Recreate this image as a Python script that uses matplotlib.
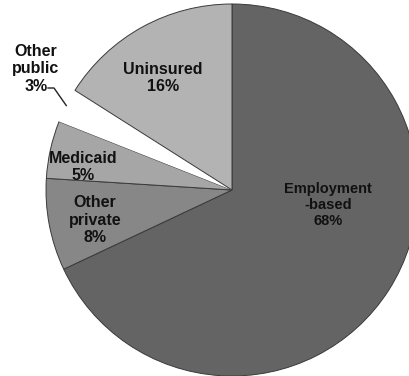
import numpy as np
import matplotlib
matplotlib.use("Agg")
import matplotlib.pyplot as plt

# === DATA ===
categories = ["Employment\n-based", "Other\nprivate", "Medicaid", "Other\npublic", "Uninsured"]
shares = [68, 8, 5, 3, 16]
colors = ["#646464", "#878787", "#a6a6a6", "#ffffff", "#b3b3b3"]

plt.rcParams['font.family'] = ['Liberation Sans', 'DejaVu Sans']

W, H = 409, 376
fig = plt.figure(figsize=(W / 100, H / 100), dpi=100)
ax = fig.add_axes([0, 0, 1, 1])

# pie centre at pixel (232, 190), radius 186 px
R = 186.0
cx, cy = 232.0, 190.0

wedges, _ = ax.pie(shares, colors=colors, startangle=90, counterclock=False,
                   radius=1.0, wedgeprops=dict(edgecolor="#3a3a3a", linewidth=0.7))
wedges[3].set_edgecolor("none")

ax.set_xlim(-cx / R, (W - cx) / R)
ax.set_ylim(-(H - cy) / R, cy / R)
ax.set_aspect('auto')
ax.axis('off')

def px(x, y):
    return (x - cx) / R, (cy - y) / R

label_pos = [px(328, 205), px(95, 220), px(83, 167), px(36, 69), px(163, 78)]
sizes = [10.5, 11.5, 11.5, 11.5, 11.5]
for cat, s, (lx, ly), fs in zip(categories, shares, label_pos, sizes):
    ax.text(lx, ly, f"{cat}\n{s}%", ha='center', va='center', fontsize=fs,
            fontweight='bold', color='#111111', linespacing=1.2)

# leader line for "Other public"
w = wedges[3]
mid = np.deg2rad((w.theta1 + w.theta2) / 2)
ex, ey = np.cos(mid) * 1.0, np.sin(mid) * 1.0
sx, sy = px(48, 88)
kx, ky = px(54, 88)
ax.plot([sx, kx, ex], [sy, ky, ey], color='#222222', lw=1.0)

fig.savefig("out.png", dpi=100, facecolor='white')
